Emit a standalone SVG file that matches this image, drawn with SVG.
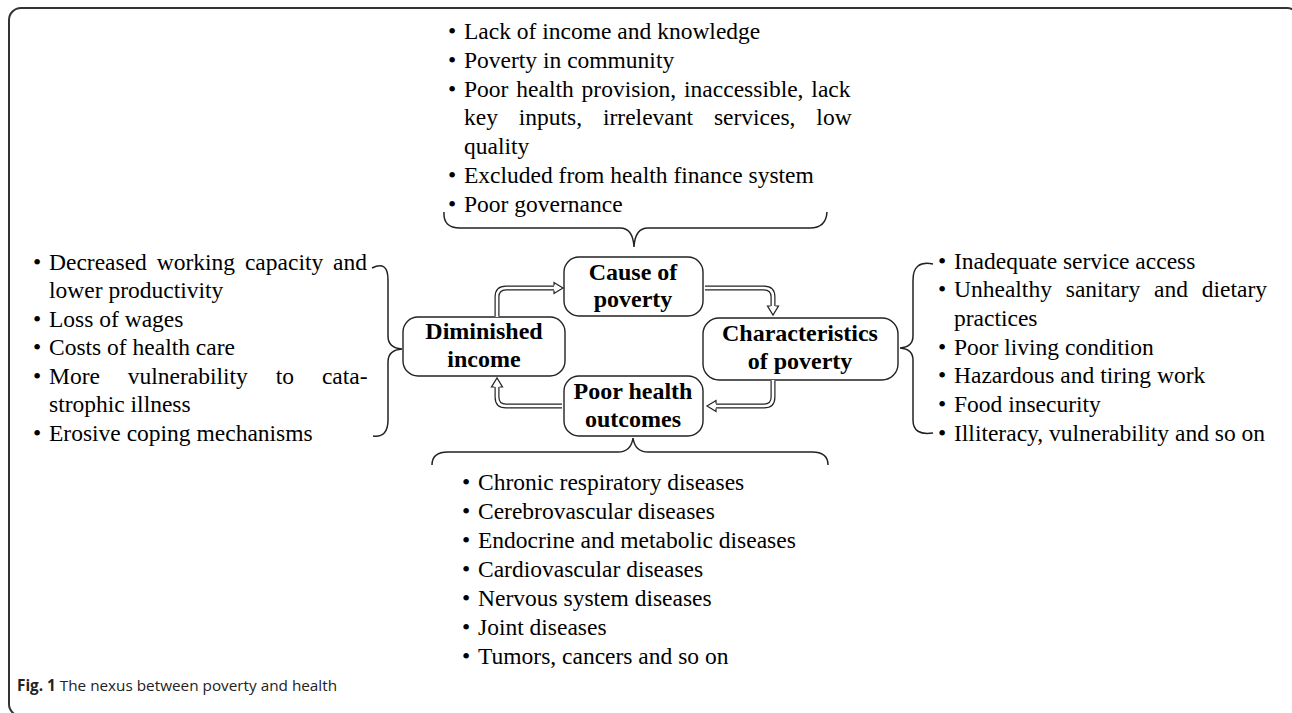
<svg xmlns="http://www.w3.org/2000/svg" width="1292" height="713" viewBox="0 0 1292 713">
<style>
.t{font-family:"Liberation Serif","Times New Roman",serif;font-size:23.5px;fill:#000}
.b{font-family:"Liberation Serif","Times New Roman",serif;font-size:24px;font-weight:bold;fill:#000;text-anchor:middle}
.box{fill:#fff;stroke:#222;stroke-width:1.4}
.br{fill:none;stroke:#222;stroke-width:1.5}
.so{fill:none;stroke:#222;stroke-width:5}
.si{fill:none;stroke:#fff;stroke-width:2.6}
.hd{fill:#fff;stroke:#222;stroke-width:1.2;stroke-linejoin:miter}
.cap{font-family:"Open Sans","Liberation Sans",sans-serif;font-size:15.3px;fill:#222}
</style>
<rect x="9" y="8" width="1290" height="708" rx="12" fill="none" stroke="#333" stroke-width="2"/>

<g id="top-list">
<text class="t" x="448" y="39">•</text><text class="t" x="464" y="39">Lack of income and knowledge</text>
<text class="t" x="448" y="68">•</text><text class="t" x="464" y="68">Poverty in community</text>
<text class="t" x="448" y="97">•</text><text class="t" x="464" y="97" word-spacing="2">Poor health provision, inaccessible, lack</text>
<text class="t" x="464" y="125" word-spacing="15">key inputs, irrelevant services, low</text>
<text class="t" x="464" y="154">quality</text>
<text class="t" x="448" y="183">•</text><text class="t" x="464" y="183">Excluded from health finance system</text>
<text class="t" x="448" y="212">•</text><text class="t" x="464" y="212">Poor governance</text>
</g>

<g id="left-list">
<text class="t" x="33" y="270">•</text><text class="t" x="49" y="270" word-spacing="4">Decreased working capacity and</text>
<text class="t" x="49" y="298">lower productivity</text>
<text class="t" x="33" y="327">•</text><text class="t" x="49" y="327">Loss of wages</text>
<text class="t" x="33" y="355">•</text><text class="t" x="49" y="355">Costs of health care</text>
<text class="t" x="33" y="384">•</text><text class="t" x="49" y="384" word-spacing="22">More vulnerability to cata-</text>
<text class="t" x="49" y="412">strophic illness</text>
<text class="t" x="33" y="441">•</text><text class="t" x="49" y="441">Erosive coping mechanisms</text>
</g>

<g id="right-list">
<text class="t" x="938" y="269">•</text><text class="t" x="954" y="269">Inadequate service access</text>
<text class="t" x="938" y="297">•</text><text class="t" x="954" y="297" word-spacing="8">Unhealthy sanitary and dietary</text>
<text class="t" x="954" y="326">practices</text>
<text class="t" x="938" y="355">•</text><text class="t" x="954" y="355">Poor living condition</text>
<text class="t" x="938" y="383">•</text><text class="t" x="954" y="383">Hazardous and tiring work</text>
<text class="t" x="938" y="412">•</text><text class="t" x="954" y="412">Food insecurity</text>
<text class="t" x="938" y="441">•</text><text class="t" x="954" y="441">Illiteracy, vulnerability and so on</text>
</g>

<g id="bottom-list">
<text class="t" x="462" y="490">•</text><text class="t" x="478" y="490">Chronic respiratory diseases</text>
<text class="t" x="462" y="519">•</text><text class="t" x="478" y="519">Cerebrovascular diseases</text>
<text class="t" x="462" y="548">•</text><text class="t" x="478" y="548">Endocrine and metabolic diseases</text>
<text class="t" x="462" y="577">•</text><text class="t" x="478" y="577">Cardiovascular diseases</text>
<text class="t" x="462" y="606">•</text><text class="t" x="478" y="606">Nervous system diseases</text>
<text class="t" x="462" y="635">•</text><text class="t" x="478" y="635">Joint diseases</text>
<text class="t" x="462" y="664">•</text><text class="t" x="478" y="664">Tumors, cancers and so on</text>
</g>

<g id="braces">
<path class="br" d="M444,212 Q443,228 460,228 H620 Q633,228 634,247 Q635,228 648,228 H810 Q826,228 827,212"/>
<path class="br" d="M432,465 Q432,452 448,452 H618 Q631,452 633,438 Q635,452 648,452 H812 Q828,452 828,465"/>
<path class="br" d="M372,268 Q388,260 388,280 V336 Q388,348 402,349 Q388,350 388,362 V420 Q388,438 373,436"/>
<path class="br" d="M933,264 Q913,260 913,280 V336 Q913,347 900,348 Q913,349 913,360 V420 Q913,436 933,433"/>
</g>

<g id="node-cause">
<rect class="box" x="564" y="257" width="139" height="59" rx="15"/>
<text class="b" x="633" y="280">Cause of</text>
<text class="b" x="633" y="307">poverty</text>
</g>
<g id="node-characteristics">
<rect class="box" x="703" y="318" width="195" height="62" rx="16"/>
<text class="b" x="800" y="341">Characteristics</text>
<text class="b" x="800" y="369">of poverty</text>
</g>
<g id="node-poor-health">
<rect class="box" x="564" y="376" width="139" height="60" rx="15"/>
<text class="b" x="633" y="399">Poor health</text>
<text class="b" x="633" y="427">outcomes</text>
</g>
<g id="node-diminished">
<rect class="box" x="403" y="317" width="162" height="59" rx="15"/>
<text class="b" x="484" y="339">Diminished</text>
<text class="b" x="484" y="367">income</text>
</g>

<g id="connectors">
<path class="so" d="M497,316 V297 Q497,288 506,288 H554"/>
<path class="si" d="M497,317 V297 Q497,288 506,288 H555"/>
<path class="hd" d="M554,285.5 V282.5 L563,288 L554,293.5 V290.5"/>

<path class="so" d="M705,288 H764 Q773,288 773,297 V306"/>
<path class="si" d="M704,288 H764 Q773,288 773,297 V307"/>
<path class="hd" d="M770.5,306 H767.5 L773,315 L778.5,306 H775.5"/>

<path class="so" d="M773,381 V397 Q773,406 764,406 H716"/>
<path class="si" d="M773,380 V397 Q773,406 764,406 H715"/>
<path class="hd" d="M716,403.5 V400.5 L707,406 L716,411.5 V408.5"/>

<path class="so" d="M562,406 H506 Q497,406 497,397 V387"/>
<path class="si" d="M563,406 H506 Q497,406 497,397 V386"/>
<path class="hd" d="M494.5,387 H491.5 L497,378 L502.5,387 H499.5"/>
</g>

<text class="cap" x="17" y="691"><tspan font-weight="bold">Fig. 1</tspan> The nexus between poverty and health</text>
</svg>
